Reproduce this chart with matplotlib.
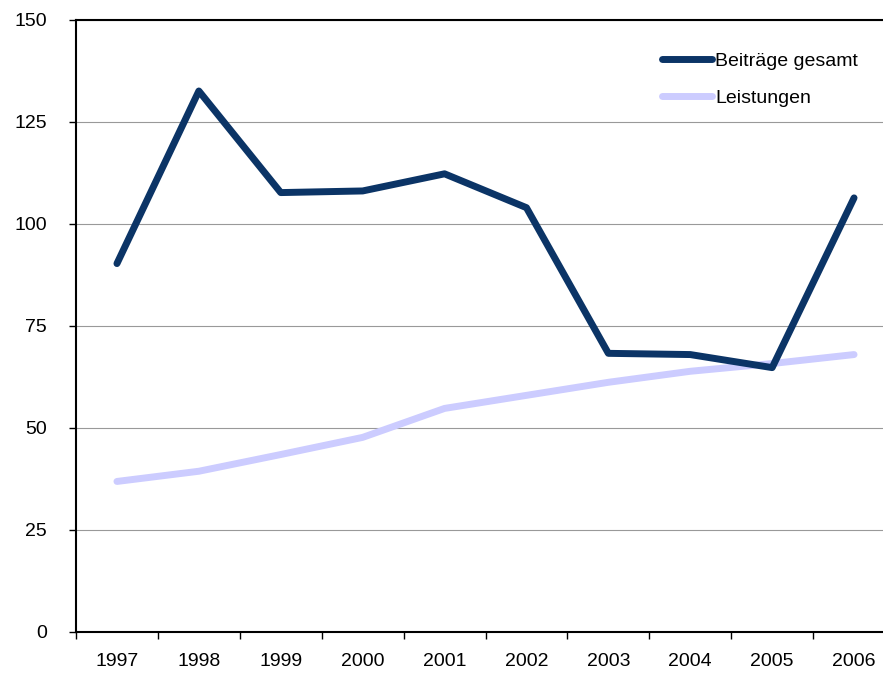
import matplotlib.pyplot as plt
import numpy as np

years = ["1997", "1998", "1999", "2000", "2001", "2002", "2003", "2004", "2005", "2006"]
beitraege = [90.3, 132.6, 107.7, 108.1, 112.3, 104.0, 68.3, 68.0, 64.8, 106.4]
leistungen = [36.9, 39.4, 43.5, 47.7, 54.8, 58.0, 61.2, 63.9, 65.8, 68.0]

plt.rcParams['font.family'] = ['Liberation Sans', 'DejaVu Sans']

fig = plt.figure(figsize=(8.83, 6.75), dpi=100)
ax = fig.add_axes([76 / 883, 1 - 632 / 675, 819 / 883, 612 / 675])

x = np.arange(len(years))
ax.plot(x, beitraege, color='#0b3466', lw=5, label='Beiträge gesamt', solid_capstyle='round', zorder=3)
ax.plot(x, leistungen, color='#ccccff', lw=5, label='Leistungen', solid_capstyle='round', zorder=2)

ax.set_xlim(-0.5, len(years) - 0.5)
ax.set_ylim(0, 150)
ax.set_yticks(np.arange(0, 151, 25))
ax.set_xticks(x)
ax.set_xticklabels(years)
ax.set_xticks(np.arange(-0.5, len(years), 1), minor=True)
ax.tick_params(axis='x', which='major', length=0, pad=15, labelsize=14)
ax.tick_params(axis='x', which='minor', length=5, width=1, direction='out')
ax.tick_params(axis='y', length=5, width=1, direction='out', pad=16, labelsize=14)
ax.grid(axis='y', color='#999999', lw=0.8)
ax.set_axisbelow(True)

for s in ['left', 'bottom', 'top']:
    ax.spines[s].set_linewidth(1.5)
    ax.spines[s].set_color('black')
ax.spines['right'].set_visible(False)

ax.legend(loc='upper left', bbox_to_anchor=(568 / 819, 0.976), frameon=False,
          fontsize=14, handlelength=2.6, handletextpad=0.15, labelspacing=1.0)

fig.savefig('out.png', dpi=100)
